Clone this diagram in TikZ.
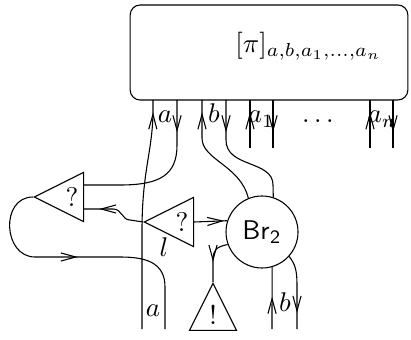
\documentclass[tikz,border=0pt]{standalone}
\usetikzlibrary{shapes.geometric,arrows.meta,decorations.markings,calc}
\tikzset{
caja/.style={draw,rounded corners=1.3mm,minimum width=36.1mm,minimum height=12.35mm,inner sep=0pt},
triangulo/.style={draw,isosceles triangle,isosceles triangle stretches,minimum width=6.4mm,minimum height=6.4mm,inner sep=0pt},
circulo/.style={draw,circle,minimum size=9.36mm,inner sep=0pt},
etiqueta/.style={inner sep=0pt,anchor=base},
flecha/.style={postaction={decorate},decoration={markings,mark=at position #1 with {\arrow{Straight Barb[length=5.5pt,width=3pt]}}}}
}
\begin{document}
\begin{tikzpicture}[x=1.3mm,y=-1.3mm]
\useasboundingbox (0,0) rectangle (41.1,33.9);
\node[caja] (pi) at (26.9,5.25) {};
\node[inner sep=0pt] (pilab) at (30.85,4.6) {$[\pi]_{a,b,a_1,\ldots,a_n}$};
\node[triangulo,shape border rotate=180,anchor=apex] (q1) at (3.3,19.7) {?};
\node[triangulo,shape border rotate=180,anchor=apex] (q2) at (14.3,22.2) {?};
\node[triangulo,shape border rotate=90,anchor=apex,minimum width=6.1mm,minimum height=6.1mm] (excl) at (21.3,28.2) {!};
\node[circulo] (br) at (26.2,23.2) {$\mathsf{Br}_{\mathsf{2}}$};

\coordinate (aU) at (15.3,10);
\coordinate (aD) at (17.7,10);
\coordinate (bU) at (20.2,10);
\coordinate (bD) at (22.6,10);
\coordinate (a1U) at (25.0,10);
\coordinate (a1D) at (27.3,10);
\coordinate (anU) at (37.0,10);
\coordinate (anD) at (39.3,10);
\coordinate (a1Ue) at (25.0,14.8);
\coordinate (a1De) at (27.3,14.8);
\coordinate (anUe) at (37.0,14.8);
\coordinate (anDe) at (39.3,14.8);
\coordinate (aBot) at (14.2,32.9);
\coordinate (lBot) at (16.5,32.9);
\coordinate (bUbot) at (27.2,32.9);
\coordinate (bDbot) at (29.7,32.9);

\draw[flecha=-1.6mm] (aBot) -- (14.2,23) .. controls (14.2,17) and (15.3,15) .. (15.3,11) -- (aU);
\draw[flecha=4.2mm] (aD) -- (17.7,14.5) .. controls (17.7,17.5) and (16,18.5) .. (12,18.5) -- ($(q1.lower side)+(0,-1.2)$);
\draw[flecha=-1.6mm] (br.112) .. controls (24.0,16.5) and (20.2,16.0) .. (20.2,13.8) -- (bU);
\draw[flecha=4.2mm] (bD) -- (22.6,14.0) .. controls (22.6,16.8) and (27.3,16.0) .. (27.3,18.5) -- (br.72);
\draw[flecha=-1.6mm] (a1Ue) -- (a1U);
\draw[flecha=4.2mm] (a1D) -- (a1De);
\draw[flecha=-1.6mm] (anUe) -- (anU);
\draw[flecha=4.2mm] (anD) -- (anDe);
\draw[flecha=-1.95mm] (q2.apex) -- (13.0,22.0) .. controls (12.2,22.0) and (12.2,20.9) .. (11.3,20.9) -- ($(q1.lower side)+(0,1.2)$);
\draw[flecha=-0.4mm] (q2.lower side) -- (br.162);
\draw[flecha=-2.6mm] (br.200) .. controls (21.6,24.7) and (21.3,25.0) .. (21.3,26.0) -- (excl.apex);
\draw[flecha=4.2mm] (bUbot) -- (br.-74);
\draw[flecha=-2.1mm] (br.-42) .. controls (29.5,26.4) and (29.7,27.0) .. (29.7,28.5) -- (bDbot);
\draw[flecha=16.8mm] (q1.apex) .. controls (0,19.7) and (0.3,25.7) .. (3.5,25.7) -- (12,25.7) .. controls (14.5,25.7) and (16.5,26.2) .. (16.5,28.7) -- (lBot);

\node[etiqueta] (la) at (16.5,12.3) {$a$};
\node[etiqueta] (lb) at (21.4,12.3) {$b$};
\node[etiqueta] (la1) at (26.1,12.3) {$a_1$};
\node[etiqueta] (ldots) at (31.8,12.3) {$\ldots$};
\node[etiqueta] (lan) at (38.2,12.3) {$a_n$};
\node[etiqueta] (ll) at (16.4,25.6) {$l$};
\node[etiqueta] (lab) at (15.3,31.6) {$a$};
\node[etiqueta] (lbb) at (28.5,31.1) {$b$};
\end{tikzpicture}
\end{document}
